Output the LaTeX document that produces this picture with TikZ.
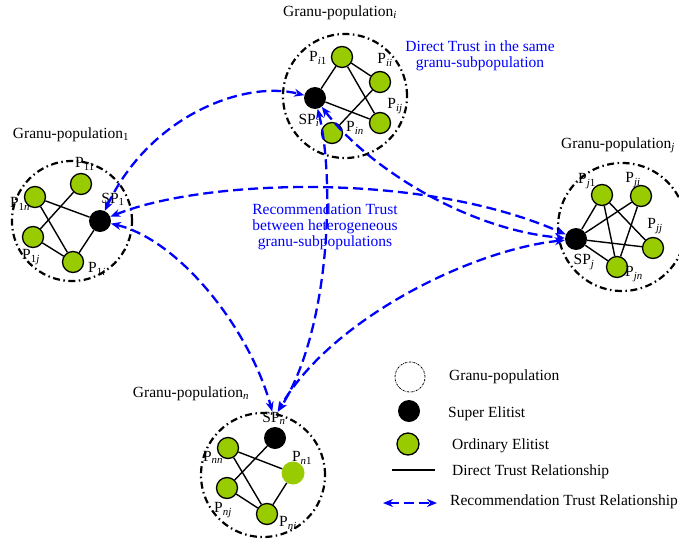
\documentclass[tikz,border=0pt]{standalone}
\usepackage{fontspec}
\setmainfont{Liberation Serif}
\usepackage{xcolor}
\usetikzlibrary{arrows.meta}

\definecolor{elitegreen}{RGB}{153,204,0}

\tikzset{
  pop/.style={circle, draw, line width=2.2pt, dash pattern=on 7pt off 3.5pt on 1.5pt off 3.5pt, minimum size=#1, inner sep=0pt},
  superelite/.style={circle, fill=black, minimum size=22pt, inner sep=0pt},
  elite/.style={circle, fill=elitegreen, draw=black, line width=1.3pt, minimum size=21pt, inner sep=0pt},
  lab/.style={inner sep=0pt},
  dt/.style={line width=1.4pt},
  rt/.style={blue, line width=2.3pt, dash pattern=on 10pt off 5pt,
    {Stealth[length=10pt,width=8pt]}-{Stealth[length=10pt,width=8pt]}},
}

\begin{document}
\begin{tikzpicture}[x=1pt, y=-1pt, font=\fontsize{15.5}{16}\selectfont]
  \useasboundingbox (0,0) rectangle (679,543);
  % Granu-populations
  \node[pop=124pt] (gi) at (345,96) {};
  \node[pop=120pt] (g1) at (72,221) {};
  \node[pop=128pt] (gj) at (622,227) {};
  \node[pop=124pt] (gn) at (263,475) {};
  \node[lab] (ti) at (340,13) {Granu-population\textsubscript{\emph{i}}};
  \node[lab] (t1) at (71,135) {Granu-population\textsubscript{1}};
  \node[lab] (tj) at (618,145) {Granu-population\textsubscript{\emph{j}}};
  \node[lab] (tn) at (191,394) {Granu-population\textsubscript{\emph{n}}};
  % Super elitists
  \node[superelite] (spi) at (315,98) {};
  \node[superelite] (sp1) at (100,221) {};
  \node[superelite] (spj) at (576,239) {};
  \node[superelite] (spn) at (275,438) {};
  % Ordinary elitists
  \foreach \n/\x/\y in {i1/342/57, ii/380/82, ij/380/123, in/332/133,
                        11/81/184, 1n/35/197, 1j/33/237, 1i/73/262,
                        j1/602/195, ji/641/196, jj/653/248, jn/617/267,
                        nn/228/448, nj/227/488, ni/267/514}
    \node[elite] (p\n) at (\x,\y) {};
  \node[circle, fill=elitegreen, minimum size=23pt, inner sep=0pt] (pn1) at (293,473) {};
  % Direct trust
  \foreach \a/\b in {spi/pi1, spi/pij, pi1/pii, pi1/pij, pii/pin,
                     p1n/sp1, p1n/p1i, p11/p1j, p1j/p1i, p1i/sp1,
                     spj/pj1, spj/pji, spj/pjj, spj/pjn, pj1/pjj, pj1/pjn, pji/pjn,
                     pnn/pn1, pnn/pni, spn/pnj, pnj/pni, pni/pn1}
    \draw[dt] (\a) -- (\b);
  % Labels
  \foreach \n/\x/\y/\t in {pi1/318/58/{P\textsubscript{\emph{i}1}}, pii/385/60/{P\textsubscript{\emph{ii}}},
                           pij/395/106/{P\textsubscript{\emph{ij}}}, pin/355/128/{P\textsubscript{\emph{in}}},
                           spi/309/120/{SP\textsubscript{\emph{i}}},
                           p11/85/164/{P\textsubscript{11}}, p1n/20/204/{P\textsubscript{1\emph{n}}},
                           p1j/31/257/{P\textsubscript{1\emph{j}}}, p1i/97/269/{P\textsubscript{1\emph{i}}},
                           sp1/113/199/{SP\textsubscript{1}},
                           pj1/587/181/{P\textsubscript{\emph{j}1}}, pji/633/180/{P\textsubscript{\emph{ji}}},
                           pjj/655/226/{P\textsubscript{\emph{jj}}}, pjn/634/274/{P\textsubscript{\emph{jn}}},
                           spj/584/262/{SP\textsubscript{\emph{j}}},
                           spn/274/418/{SP\textsubscript{\emph{n}}}, pnn/213/457/{P\textsubscript{\emph{nn}}},
                           pn1/302/458/{P\textsubscript{\emph{n}1}}, pnj/223/510/{P\textsubscript{\emph{nj}}},
                           pni/288/523/{P\textsubscript{\emph{ni}}}}
    \node[lab] (l\n) at (\x,\y) {\t};
  % Recommendation trust
  \draw[rt] (sp1) .. controls (150,115) and (245,80) .. (spi);
  \draw[rt] (sp1) .. controls (200,180) and (420,170) .. (spj);
  \draw[rt] (spi) .. controls (370,170) and (470,230) .. (spj);
  \draw[rt] (spi) .. controls (335,180) and (330,330) .. (lspn);
  \draw[rt] (spj) .. controls (470,250) and (330,320) .. (lspn);
  \draw[rt] (sp1) .. controls (180,240) and (250,330) .. (lspn);
  \node[lab, blue, align=center] (dtxt) at (480,56) {Direct Trust in the same\\granu-subpopulation};
  \node[lab, blue, align=center] (rtxt) at (325,227) {Recommendation Trust\\between heterogeneous\\granu-subpopulations};
  % Legend
  \node[circle, draw, line width=0.8pt, dash pattern=on 2pt off 1pt on 0.5pt off 1pt, minimum size=30pt] (kpop) at (410,377) {};
  \node[superelite] (ksp) at (409,411) {};
  \node[elite, minimum size=22pt] (kp) at (408,444) {};
  \coordinate (dta) at (392,470);
  \coordinate (dtb) at (435,470);
  \draw[dt] (dta) -- (dtb);
  \coordinate (rta) at (383,503);
  \coordinate (rtb) at (437,503);
  \draw[rt] (rta) -- (rtb);
  \node[lab, anchor=west] (kt1) at (449,377) {Granu-population};
  \node[lab, anchor=west] (kt2) at (448,414) {Super Elitist};
  \node[lab, anchor=west] (kt3) at (452,446) {Ordinary Elitist};
  \node[lab, anchor=west] (kt4) at (452,472) {Direct Trust Relationship};
  \node[lab, anchor=west] (kt5) at (450,502) {Recommendation Trust Relationship};
\end{tikzpicture}
\end{document}
